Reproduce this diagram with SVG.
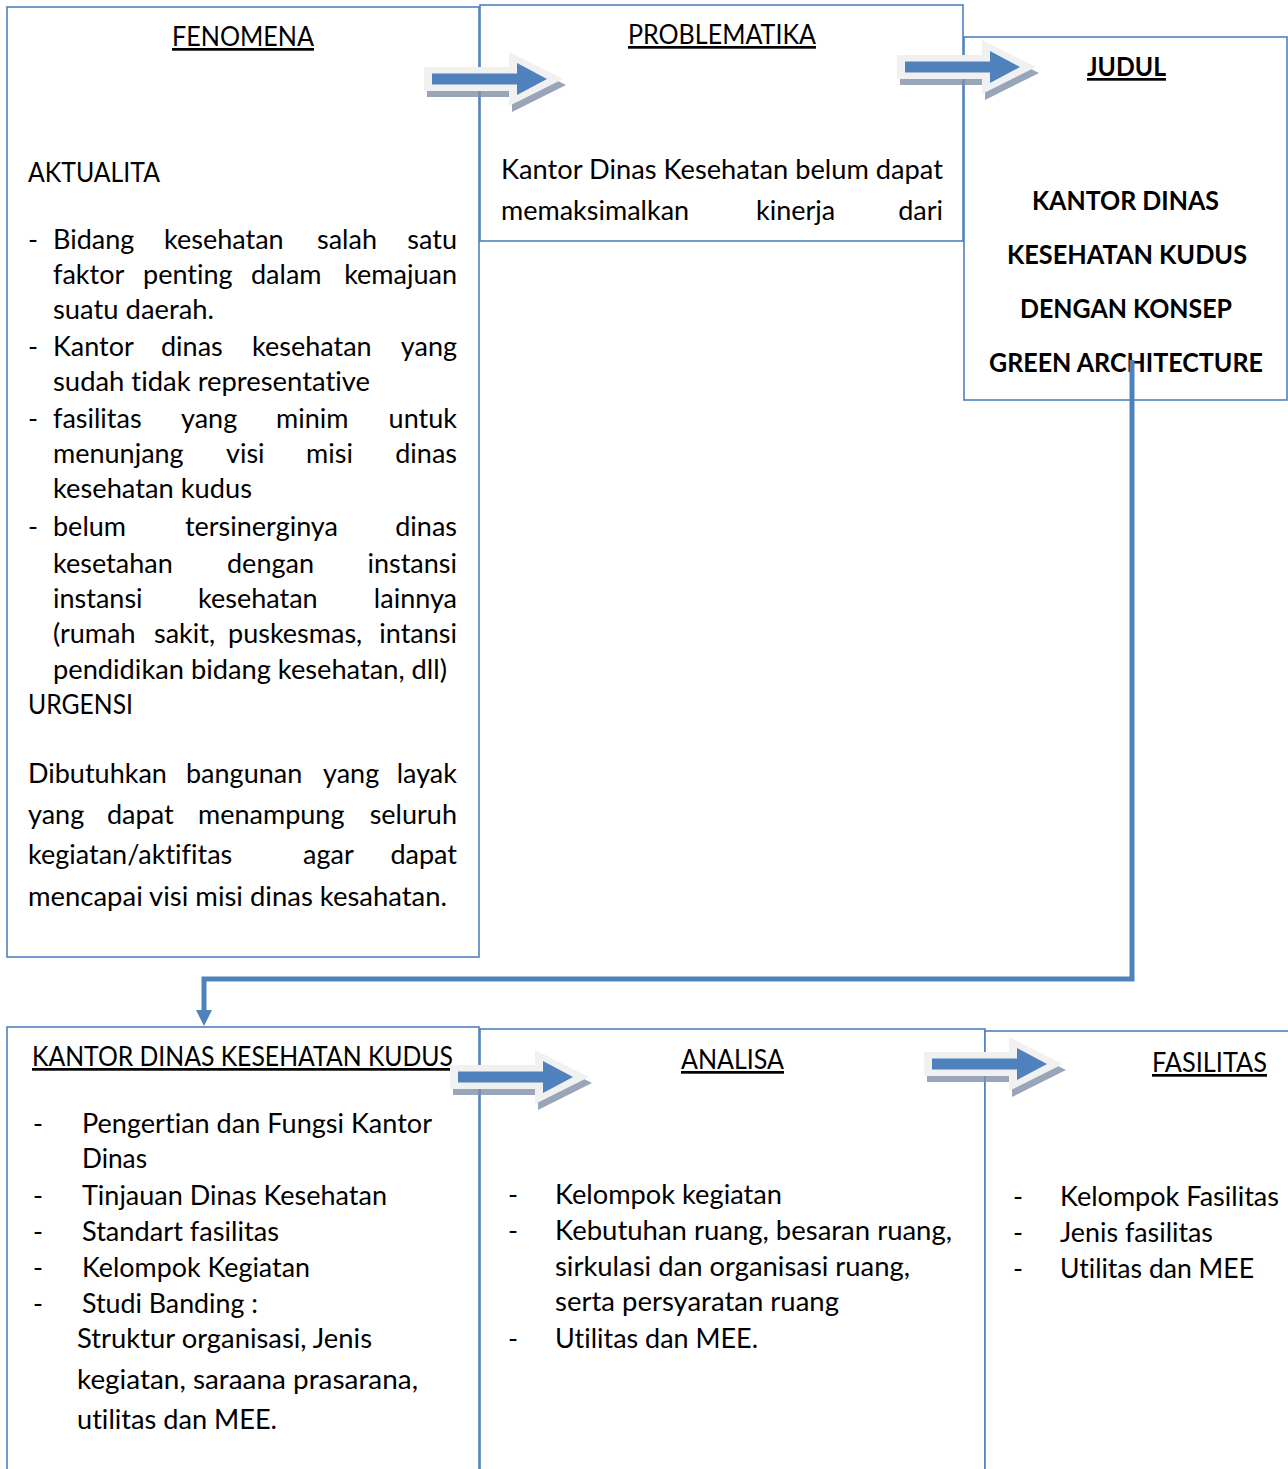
<svg xmlns="http://www.w3.org/2000/svg" xmlns:xlink="http://www.w3.org/1999/xlink" width="1288" height="1469" viewBox="0 0 1288 1469">
<style>
.box{fill:#ffffff;stroke:#4f81bd;stroke-width:1.6}
.t{font-family:Lato,"Open Sans","Liberation Sans",sans-serif;font-size:27px;fill:#000;font-variant-ligatures:none;font-feature-settings:"liga" 0,"dlig" 0}
.b{font-weight:bold}
.u{text-decoration:underline}
.m{text-anchor:middle}
.e{text-anchor:end}
.conn{fill:none;stroke:#4f81bd;stroke-width:5}
</style>
<defs>
<g id="blockArrow">
<polygon points="-8,-12 77,-12 77,-27 131,0 77,27 77,12 -8,12" fill="#7f8ea6" opacity="0.8" transform="translate(3,6)"/>
<polygon points="-8,-12 77,-12 77,-27 131,0 77,27 77,12 -8,12" fill="#f1f1f1"/>
<polygon points="0,-5.5 85,-5.5 85,-16 115,0 85,16 85,5.5 0,5.5" fill="#4f81bd"/>
</g>
<marker id="ah" markerWidth="18" markerHeight="16" refX="0" refY="8" orient="auto" markerUnits="userSpaceOnUse">
<polygon points="0,0 16,8 0,16" fill="#4f81bd"/>
</marker>
</defs>

<g id="fenomena">
<rect class="box" x="7" y="7" width="472" height="950"/>
<text class="t u" x="172" y="46" textLength="142" lengthAdjust="spacingAndGlyphs">FENOMENA</text>
<text class="t" x="28" y="182" textLength="132" lengthAdjust="spacingAndGlyphs">AKTUALITA</text>
<text class="t" y="249"><tspan x="28">-</tspan><tspan x="53">Bidang</tspan><tspan x="164">kesehatan</tspan><tspan x="317">salah</tspan></text>
<text class="t e" x="457" y="249">satu</text>
<text class="t" y="284"><tspan x="53">faktor</tspan><tspan x="143">penting</tspan><tspan x="251">dalam</tspan></text>
<text class="t e" x="457" y="284">kemajuan</text>
<text class="t" x="53" y="319" textLength="161" lengthAdjust="spacingAndGlyphs">suatu daerah.</text>
<text class="t" y="356"><tspan x="28">-</tspan><tspan x="53">Kantor</tspan><tspan x="161">dinas</tspan><tspan x="252">kesehatan</tspan></text>
<text class="t e" x="457" y="356">yang</text>
<text class="t" x="53" y="391" textLength="317" lengthAdjust="spacingAndGlyphs">sudah tidak representative</text>
<text class="t" y="428"><tspan x="28">-</tspan><tspan x="53">fasilitas</tspan><tspan x="181">yang</tspan><tspan x="276">minim</tspan></text>
<text class="t e" x="457" y="428">untuk</text>
<text class="t" y="463"><tspan x="53">menunjang</tspan><tspan x="226">visi</tspan><tspan x="306">misi</tspan></text>
<text class="t e" x="457" y="463">dinas</text>
<text class="t" x="53" y="498" textLength="199" lengthAdjust="spacingAndGlyphs">kesehatan kudus</text>
<text class="t" y="536"><tspan x="28">-</tspan><tspan x="53">belum</tspan><tspan x="185">tersinerginya</tspan></text>
<text class="t e" x="457" y="536">dinas</text>
<text class="t" y="573"><tspan x="53">kesetahan</tspan><tspan x="227">dengan</tspan></text>
<text class="t e" x="457" y="573">instansi</text>
<text class="t" y="608"><tspan x="53">instansi</tspan><tspan x="198">kesehatan</tspan></text>
<text class="t e" x="457" y="608">lainnya</text>
<text class="t" y="643"><tspan x="53">(rumah</tspan><tspan x="154">sakit,</tspan><tspan x="228">puskesmas,</tspan></text>
<text class="t e" x="457" y="643">intansi</text>
<text class="t" x="53" y="679" textLength="394" lengthAdjust="spacingAndGlyphs">pendidikan bidang kesehatan, dll)</text>
<text class="t" x="28" y="714" textLength="105" lengthAdjust="spacingAndGlyphs">URGENSI</text>
<text class="t" y="783"><tspan x="28">Dibutuhkan</tspan><tspan x="186">bangunan</tspan><tspan x="323">yang</tspan></text>
<text class="t e" x="457" y="783">layak</text>
<text class="t" y="824"><tspan x="28">yang</tspan><tspan x="107">dapat</tspan><tspan x="198">menampung</tspan></text>
<text class="t e" x="457" y="824">seluruh</text>
<text class="t" y="864"><tspan x="28">kegiatan/aktifitas</tspan><tspan x="303">agar</tspan></text>
<text class="t e" x="457" y="864">dapat</text>
<text class="t" x="28" y="906" textLength="419" lengthAdjust="spacingAndGlyphs">mencapai visi misi dinas kesahatan.</text>
</g>

<g id="problematika">
<rect class="box" x="480" y="5" width="483" height="236"/>
<text class="t u" x="628" y="44" textLength="188" lengthAdjust="spacingAndGlyphs">PROBLEMATIKA</text>
<text class="t" x="501" y="179" textLength="442" lengthAdjust="spacingAndGlyphs">Kantor Dinas Kesehatan belum dapat</text>
<text class="t" y="220"><tspan x="501">memaksimalkan</tspan><tspan x="756">kinerja</tspan></text>
<text class="t e" x="943" y="220">dari</text>
</g>

<g id="judul">
<rect class="box" x="964" y="37" width="323" height="363"/>
<text class="t b u" x="1087" y="76" textLength="79" lengthAdjust="spacingAndGlyphs">JUDUL</text>
<text class="t b" x="1032" y="210" textLength="187" lengthAdjust="spacingAndGlyphs">KANTOR DINAS</text>
<text class="t b" x="1007" y="264" textLength="240" lengthAdjust="spacingAndGlyphs">KESEHATAN KUDUS</text>
<text class="t b" x="1020" y="318" textLength="212" lengthAdjust="spacingAndGlyphs">DENGAN KONSEP</text>
<text class="t b" x="989" y="372" textLength="274" lengthAdjust="spacingAndGlyphs">GREEN ARCHITECTURE</text>
</g>

<g id="kantor">
<rect class="box" x="7" y="1027" width="472" height="460"/>
<text class="t u" x="32" y="1066" textLength="421" lengthAdjust="spacingAndGlyphs">KANTOR DINAS KESEHATAN KUDUS</text>
<text class="t" x="33" y="1133">-</text>
<text class="t" x="82" y="1133" textLength="350" lengthAdjust="spacingAndGlyphs">Pengertian dan Fungsi Kantor</text>
<text class="t" x="82" y="1168" textLength="65" lengthAdjust="spacingAndGlyphs">Dinas</text>
<text class="t" x="33" y="1205">-</text>
<text class="t" x="82" y="1205" textLength="305" lengthAdjust="spacingAndGlyphs">Tinjauan Dinas Kesehatan</text>
<text class="t" x="33" y="1241">-</text>
<text class="t" x="82" y="1241" textLength="197" lengthAdjust="spacingAndGlyphs">Standart fasilitas</text>
<text class="t" x="33" y="1277">-</text>
<text class="t" x="82" y="1277" textLength="228" lengthAdjust="spacingAndGlyphs">Kelompok Kegiatan</text>
<text class="t" x="33" y="1313">-</text>
<text class="t" x="82" y="1313" textLength="176" lengthAdjust="spacingAndGlyphs">Studi Banding :</text>
<text class="t" x="77" y="1348" textLength="295" lengthAdjust="spacingAndGlyphs">Struktur organisasi, Jenis</text>
<text class="t" x="77" y="1389" textLength="341" lengthAdjust="spacingAndGlyphs">kegiatan, saraana prasarana,</text>
<text class="t" x="77" y="1429" textLength="200" lengthAdjust="spacingAndGlyphs">utilitas dan MEE.</text>
</g>

<g id="analisa">
<rect class="box" x="480" y="1029" width="505" height="460"/>
<text class="t u" x="681" y="1069" textLength="103" lengthAdjust="spacingAndGlyphs">ANALISA</text>
<text class="t" x="508" y="1204">-</text>
<text class="t" x="555" y="1204" textLength="227" lengthAdjust="spacingAndGlyphs">Kelompok kegiatan</text>
<text class="t" x="508" y="1240">-</text>
<text class="t" x="555" y="1240" textLength="397" lengthAdjust="spacingAndGlyphs">Kebutuhan ruang, besaran ruang,</text>
<text class="t" x="555" y="1276" textLength="355" lengthAdjust="spacingAndGlyphs">sirkulasi dan organisasi ruang,</text>
<text class="t" x="555" y="1311" textLength="284" lengthAdjust="spacingAndGlyphs">serta persyaratan ruang</text>
<text class="t" x="508" y="1348">-</text>
<text class="t" x="555" y="1348" textLength="203" lengthAdjust="spacingAndGlyphs">Utilitas dan MEE.</text>
</g>

<g id="fasilitas">
<rect class="box" x="985" y="1031" width="320" height="460"/>
<text class="t u" x="1152" y="1072" textLength="115" lengthAdjust="spacingAndGlyphs">FASILITAS</text>
<text class="t" x="1013" y="1206">-</text>
<text class="t" x="1060" y="1206" textLength="219" lengthAdjust="spacingAndGlyphs">Kelompok Fasilitas</text>
<text class="t" x="1013" y="1242">-</text>
<text class="t" x="1060" y="1242" textLength="153" lengthAdjust="spacingAndGlyphs">Jenis fasilitas</text>
<text class="t" x="1013" y="1278">-</text>
<text class="t" x="1060" y="1278" textLength="194" lengthAdjust="spacingAndGlyphs">Utilitas dan MEE</text>
</g>

<g id="connectors">
<path class="conn" d="M1132,360 V979 H204 V1010" marker-end="url(#ah)"/>
<use xlink:href="#blockArrow" href="#blockArrow" transform="translate(432,79)"/>
<use xlink:href="#blockArrow" href="#blockArrow" transform="translate(905,67)"/>
<use xlink:href="#blockArrow" href="#blockArrow" transform="translate(458,1077)"/>
<use xlink:href="#blockArrow" href="#blockArrow" transform="translate(932,1064)"/>
</g>
</svg>
